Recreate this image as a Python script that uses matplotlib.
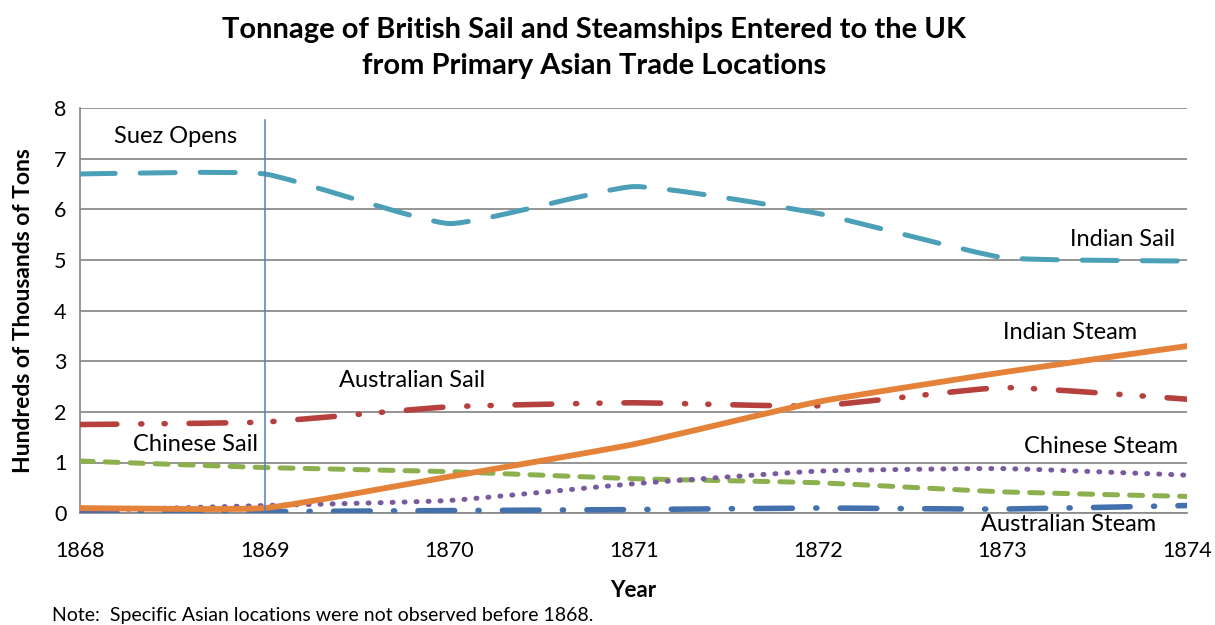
import matplotlib.pyplot as plt
from matplotlib.path import Path
from matplotlib.patches import PathPatch

plt.rcParams['font.family'] = ['Lato', 'DejaVu Sans']

years = [1868, 1869, 1870, 1871, 1872, 1873, 1874]
indian_sail = [6.7, 6.7, 5.72, 6.45, 5.92, 5.05, 4.98]
indian_steam = [0.1, 0.1, 0.72, 1.36, 2.2, 2.78, 3.3]
australian_sail = [1.75, 1.8, 2.1, 2.18, 2.12, 2.48, 2.25]
chinese_sail = [1.03, 0.9, 0.82, 0.68, 0.6, 0.42, 0.33]
chinese_steam = [0.05, 0.15, 0.25, 0.58, 0.83, 0.88, 0.75]
australian_steam = [0.02, 0.03, 0.05, 0.07, 0.1, 0.08, 0.15]
suez_year = 1869


def smooth_path(xs, ys, k=14.0):
    # smoothed line like excel: cubic bezier segments through the data points
    pts = list(zip(xs, ys))
    verts = [pts[0]]
    codes = [Path.MOVETO]
    n = len(pts)
    for i in range(n - 1):
        p0 = pts[i - 1] if i > 0 else pts[i]
        p1 = pts[i]
        p2 = pts[i + 1]
        p3 = pts[i + 2] if i + 2 < n else pts[i + 1]
        c1 = (p1[0] + (p2[0] - p0[0]) / k, p1[1] + (p2[1] - p0[1]) / k)
        c2 = (p2[0] - (p3[0] - p1[0]) / k, p2[1] - (p3[1] - p1[1]) / k)
        verts += [c1, c2, p2]
        codes += [Path.CURVE4] * 3
    return Path(verts, codes)


fig = plt.figure(figsize=(12.15, 6.25), dpi=100)
ax = fig.add_axes([0.066, 0.179, 0.911, 0.648])

dot = 0.2
series = [
    (indian_sail, '#4BA0B8', 3.6, (0, (7, 5))),
    (australian_sail, '#B5403D', 4.0, (0, (6.6, 4.3, dot, 4, dot, 4.3))),
    (chinese_sail, '#8CB04E', 3.6, (0, (2.6, 2.4))),
    (australian_steam, '#4371AE', 4.0, (0, (6.6, 4.2, dot, 4.2))),
    (chinese_steam, '#7A5A9E', 3.6, (0, (dot, 2.2))),
    (indian_steam, '#E5823A', 4.2, 'solid'),
]
for ys, col, lw, ls in series:
    p = PathPatch(smooth_path(years, ys), facecolor='none', edgecolor=col,
                  lw=lw, linestyle=ls, capstyle='round', joinstyle='round', zorder=3)
    ax.add_patch(p)

ax.plot([suez_year, suez_year], [0, 7.77], color='#4F81BD', lw=1.1, zorder=4)

ax.set_xlim(1868, 1874)
ax.set_ylim(0, 8)
ax.set_yticks(range(0, 9))
ax.set_xticks(years)
ax.grid(axis='y', color='#8C8C8C', lw=1.3)
ax.set_axisbelow(True)
for s in ['top', 'right']:
    ax.spines[s].set_visible(False)
for s in ['left', 'bottom']:
    ax.spines[s].set_color('#8C8C8C')
    ax.spines[s].set_linewidth(1.3)
ax.tick_params(length=0, labelsize=15.5)
ax.tick_params(axis='x', pad=20)
ax.tick_params(axis='y', pad=10)

ax.set_xlabel('Year', fontsize=16, fontweight='bold', labelpad=14)
ax.set_ylabel('Hundreds of Thousands of Tons', fontsize=16.5, fontweight='bold', labelpad=14)
fig.suptitle('Tonnage of British Sail and Steamships Entered to the UK\nfrom Primary Asian Trade Locations',
             x=0.489, y=0.973, fontsize=21, fontweight='bold', linespacing=1.5)

lab = dict(fontsize=17, color='black')
ax.text(1868.515, 7.43, 'Suez Opens', ha='center', va='center', **lab)
ax.text(1873.935, 5.4, 'Indian Sail', ha='right', va='center', **lab)
ax.text(1873.73, 3.56, 'Indian Steam', ha='right', va='center', **lab)
ax.text(1869.8, 2.61, 'Australian Sail', ha='center', va='center', **lab)
ax.text(1868.965, 1.36, 'Chinese Sail', ha='right', va='center', **lab)
ax.text(1873.95, 1.32, 'Chinese Steam', ha='right', va='center', **lab)
ax.text(1873.83, -0.22, 'Australian Steam', ha='right', va='center', **lab)

fig.text(0.043, 0.006, 'Note:  Specific Asian locations were not observed before 1868.', fontsize=14)

fig.savefig('out.png', dpi=100)
